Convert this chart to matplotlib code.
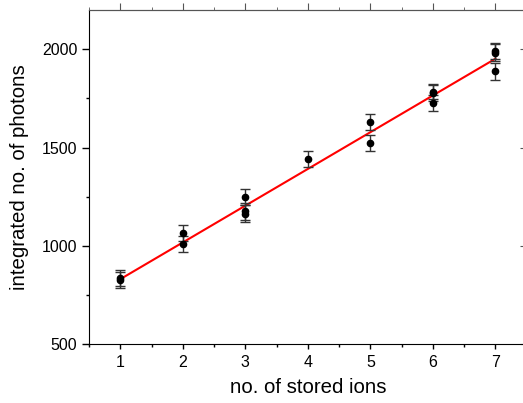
import numpy as np
import matplotlib.pyplot as plt
from matplotlib.ticker import MultipleLocator

plt.rcParams['font.family'] = ['Liberation Sans', 'DejaVu Sans']

# measured photon counts per number of stored ions
ions = [1, 1, 2, 2, 3, 3, 3, 4, 5, 5, 6, 6, 6, 7, 7, 7]
photons = [838, 824, 1064, 1008, 1247, 1175, 1163, 1443,
           1631, 1522, 1785, 1776, 1727, 1991, 1983, 1888]
errors = [41, 41, 42, 40, 41, 42, 42, 40,
          41, 41, 40, 40, 40, 42, 42, 42]

# linear fit
fit_slope = 187.0
fit_intercept = 643.0
fit_x = [1, 7]

fig = plt.figure(figsize=(5.23, 4.03), dpi=100)
ax = fig.add_axes([0.1702, 0.1464, 0.8368, 0.8288])

fx = np.array(fit_x)
ax.plot(fx, fit_intercept + fit_slope * fx, color='red', lw=1.5, zorder=3)
ax.errorbar(ions, photons, yerr=errors, fmt='o', color='black', ms=4.5,
            ecolor='#333333', elinewidth=1, capsize=3.5, capthick=1, zorder=4)

ax.set_xlim(0.5, 7.5)
ax.set_ylim(500, 2200)
ax.xaxis.set_major_locator(MultipleLocator(1))
ax.xaxis.set_minor_locator(MultipleLocator(0.5))
ax.yaxis.set_major_locator(MultipleLocator(500))
ax.yaxis.set_minor_locator(MultipleLocator(250))
ax.spines['right'].set_visible(False)
ax.spines['top'].set_color('#555555')

ax.tick_params(which='both', direction='out', top=False, right=False, labelsize=11.5, width=1)
ax.tick_params(axis='x', which='major', length=3.8, pad=4)
ax.tick_params(axis='y', which='major', length=4.8)
ax.tick_params(which='minor', length=2)

# ticks on the top and right edges
axt = ax.secondary_xaxis('top')
axt.spines['top'].set_color('#555555')
axt.xaxis.set_major_locator(MultipleLocator(1))
axt.xaxis.set_minor_locator(MultipleLocator(0.5))
axt.tick_params(which='both', direction='out', labeltop=False, color='#555555')
axt.tick_params(which='major', length=4.8)
axt.tick_params(which='minor', length=2.2)
axr = ax.secondary_yaxis('right')
axr.spines['right'].set_visible(False)
axr.yaxis.set_major_locator(MultipleLocator(500))
axr.yaxis.set_minor_locator(MultipleLocator(250))
axr.tick_params(which='both', direction='in', labelright=False, color='#555555')
axr.tick_params(which='major', length=5)
axr.tick_params(which='minor', length=2)

ax.set_xlabel('no. of stored ions', fontsize=14.7, labelpad=6)
ax.set_ylabel('integrated no. of photons', fontsize=14.7, labelpad=9)

plt.savefig('out.png', dpi=100)
